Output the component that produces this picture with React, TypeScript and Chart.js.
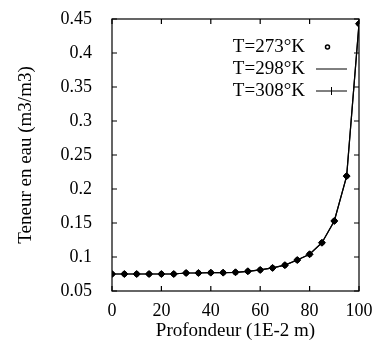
import React, { useEffect, useRef } from "react";
import { Chart, registerables } from "chart.js";

Chart.register(...registerables);

const depths = [0, 5, 10, 15, 20, 25, 30, 35, 40, 45, 50, 55, 60, 65, 70, 75, 80, 85, 90, 95, 100];
const theta273 = [0.075, 0.075, 0.075, 0.075, 0.075, 0.075, 0.0765, 0.0765, 0.077, 0.077, 0.0775, 0.079, 0.081, 0.084, 0.088, 0.0955, 0.104, 0.121, 0.153, 0.219, 0.443];
const theta298 = [0.075, 0.075, 0.075, 0.075, 0.075, 0.075, 0.0765, 0.0765, 0.077, 0.077, 0.0775, 0.079, 0.081, 0.084, 0.088, 0.0955, 0.104, 0.121, 0.153, 0.219, 0.443];
const theta308 = [0.075, 0.075, 0.075, 0.075, 0.075, 0.075, 0.0765, 0.0765, 0.077, 0.077, 0.0775, 0.079, 0.081, 0.084, 0.088, 0.0955, 0.104, 0.121, 0.153, 0.219, 0.443];
const seriesLabels = ["T=273°K", "T=298°K", "T=308°K"];
const xTicks = [0, 20, 40, 60, 80, 100];
const yTicks = [0.05, 0.1, 0.15, 0.2, 0.25, 0.3, 0.35, 0.4, 0.45];

const FONT = "'Liberation Serif', 'DejaVu Serif', serif";

const frame = {
  id: "frame",
  afterDatasetsDraw(chart: any) {
    const { ctx, chartArea: a, scales } = chart;
    ctx.save();
    ctx.strokeStyle = "#000";
    ctx.lineWidth = 1.2;
    ctx.strokeRect(a.left, a.top, a.right - a.left, a.bottom - a.top);
    const L = 5;
    ctx.beginPath();
    xTicks.forEach((v) => {
      const x = scales.x.getPixelForValue(v);
      ctx.moveTo(x, a.bottom);
      ctx.lineTo(x, a.bottom - L);
      ctx.moveTo(x, a.top);
      ctx.lineTo(x, a.top + L);
    });
    yTicks.forEach((v) => {
      const y = scales.y.getPixelForValue(v);
      ctx.moveTo(a.left, y);
      ctx.lineTo(a.left + L, y);
      ctx.moveTo(a.right, y);
      ctx.lineTo(a.right - L, y);
    });
    ctx.stroke();

    // legend
    ctx.fillStyle = "#000";
    ctx.font = "19px " + FONT;
    ctx.textAlign = "right";
    ctx.textBaseline = "middle";
    const rows = [47, 69, 91];
    const tx = 305;
    const s0 = 316, s1 = 347;
    seriesLabels.forEach((t, i) => ctx.fillText(t, tx, rows[i]));
    ctx.beginPath();
    ctx.arc((s0 + s1) / 2 - 4, rows[0], 2, 0, Math.PI * 2);
    ctx.lineWidth = 1.5;
    ctx.stroke();
    ctx.lineWidth = 1;
    ctx.beginPath();
    ctx.moveTo(s0, rows[1]);
    ctx.lineTo(s1, rows[1]);
    ctx.stroke();
    ctx.beginPath();
    ctx.moveTo(s0, rows[2]);
    ctx.lineTo(s1, rows[2]);
    const cx = (s0 + s1) / 2;
    ctx.moveTo(cx, rows[2] - 4);
    ctx.lineTo(cx, rows[2] + 4);
    ctx.stroke();
    ctx.restore();
  },
};

export default function App() {
  const ref = useRef<HTMLCanvasElement | null>(null);
  useEffect(() => {
    if (!ref.current) return;
    const mk = (arr: number[]) => depths.map((d, i) => ({ x: d, y: arr[i] }));
    const chart = new Chart(ref.current, {
      type: "line",
      data: {
        datasets: [
          {
            label: seriesLabels[0],
            data: mk(theta273),
            showLine: false,
            pointStyle: "circle",
            pointRadius: 2.5,
            backgroundColor: "#000",
            borderColor: "#000",
          },
          {
            label: seriesLabels[1],
            data: mk(theta298),
            borderColor: "#000",
            borderWidth: 1.2,
            pointRadius: 0,
            tension: 0,
          },
          {
            label: seriesLabels[2],
            data: mk(theta308),
            borderColor: "#000",
            borderWidth: 1.2,
            pointStyle: "rectRot",
            pointRadius: 3.5,
            pointBorderWidth: 1,
            backgroundColor: "#000",
            tension: 0,
          },
        ],
      },
      options: {
        animation: false,
        responsive: false,
        maintainAspectRatio: false,
        events: [],
        layout: { padding: { top: 19, right: 15, left: 0, bottom: 0 } },
        plugins: { legend: { display: false }, tooltip: { enabled: false } },
        scales: {
          x: {
            type: "linear",
            min: 0,
            max: 100,
            afterBuildTicks: (s: any) => {
              s.ticks = xTicks.map((v) => ({ value: v }));
            },
            afterFit: (s: any) => {
              s.height = 56;
              s.paddingLeft = 0;
              s.paddingRight = 0;
            },
            grid: { display: false, drawTicks: false },
            border: { display: false },
            ticks: {
              color: "#000",
              font: { family: FONT, size: 18 },
              padding: 9,
              maxRotation: 0,
            },
            title: {
              display: true,
              text: "Profondeur (1E-2 m)",
              color: "#000",
              font: { family: FONT, size: 19 },
              padding: { top: 0, bottom: 5 },
            },
          },
          y: {
            type: "linear",
            min: 0.05,
            max: 0.45,
            afterBuildTicks: (s: any) => {
              s.ticks = yTicks.map((v) => ({ value: v }));
            },
            afterFit: (s: any) => {
              s.width = 112;
              s.paddingTop = 0;
              s.paddingBottom = 0;
            },
            grid: { display: false, drawTicks: false },
            border: { display: false },
            ticks: {
              color: "#000",
              font: { family: FONT, size: 18 },
              padding: 20,
              callback: (v: any) => String(Number(Number(v).toFixed(2))),
            },
            title: {
              display: true,
              text: "Teneur en eau (m3/m3)",
              color: "#000",
              font: { family: FONT, size: 19 },
              padding: { top: 15, bottom: 0 },
            },
          },
        },
      },
      plugins: [frame],
    });
    return () => chart.destroy();
  }, []);
  return (
    <div style={{ position: "fixed", left: 0, top: 0, width: 374, height: 347, background: "#fff" }}>
      <canvas ref={ref} width={374} height={347} style={{ width: 374, height: 347 }} />
    </div>
  );
}
